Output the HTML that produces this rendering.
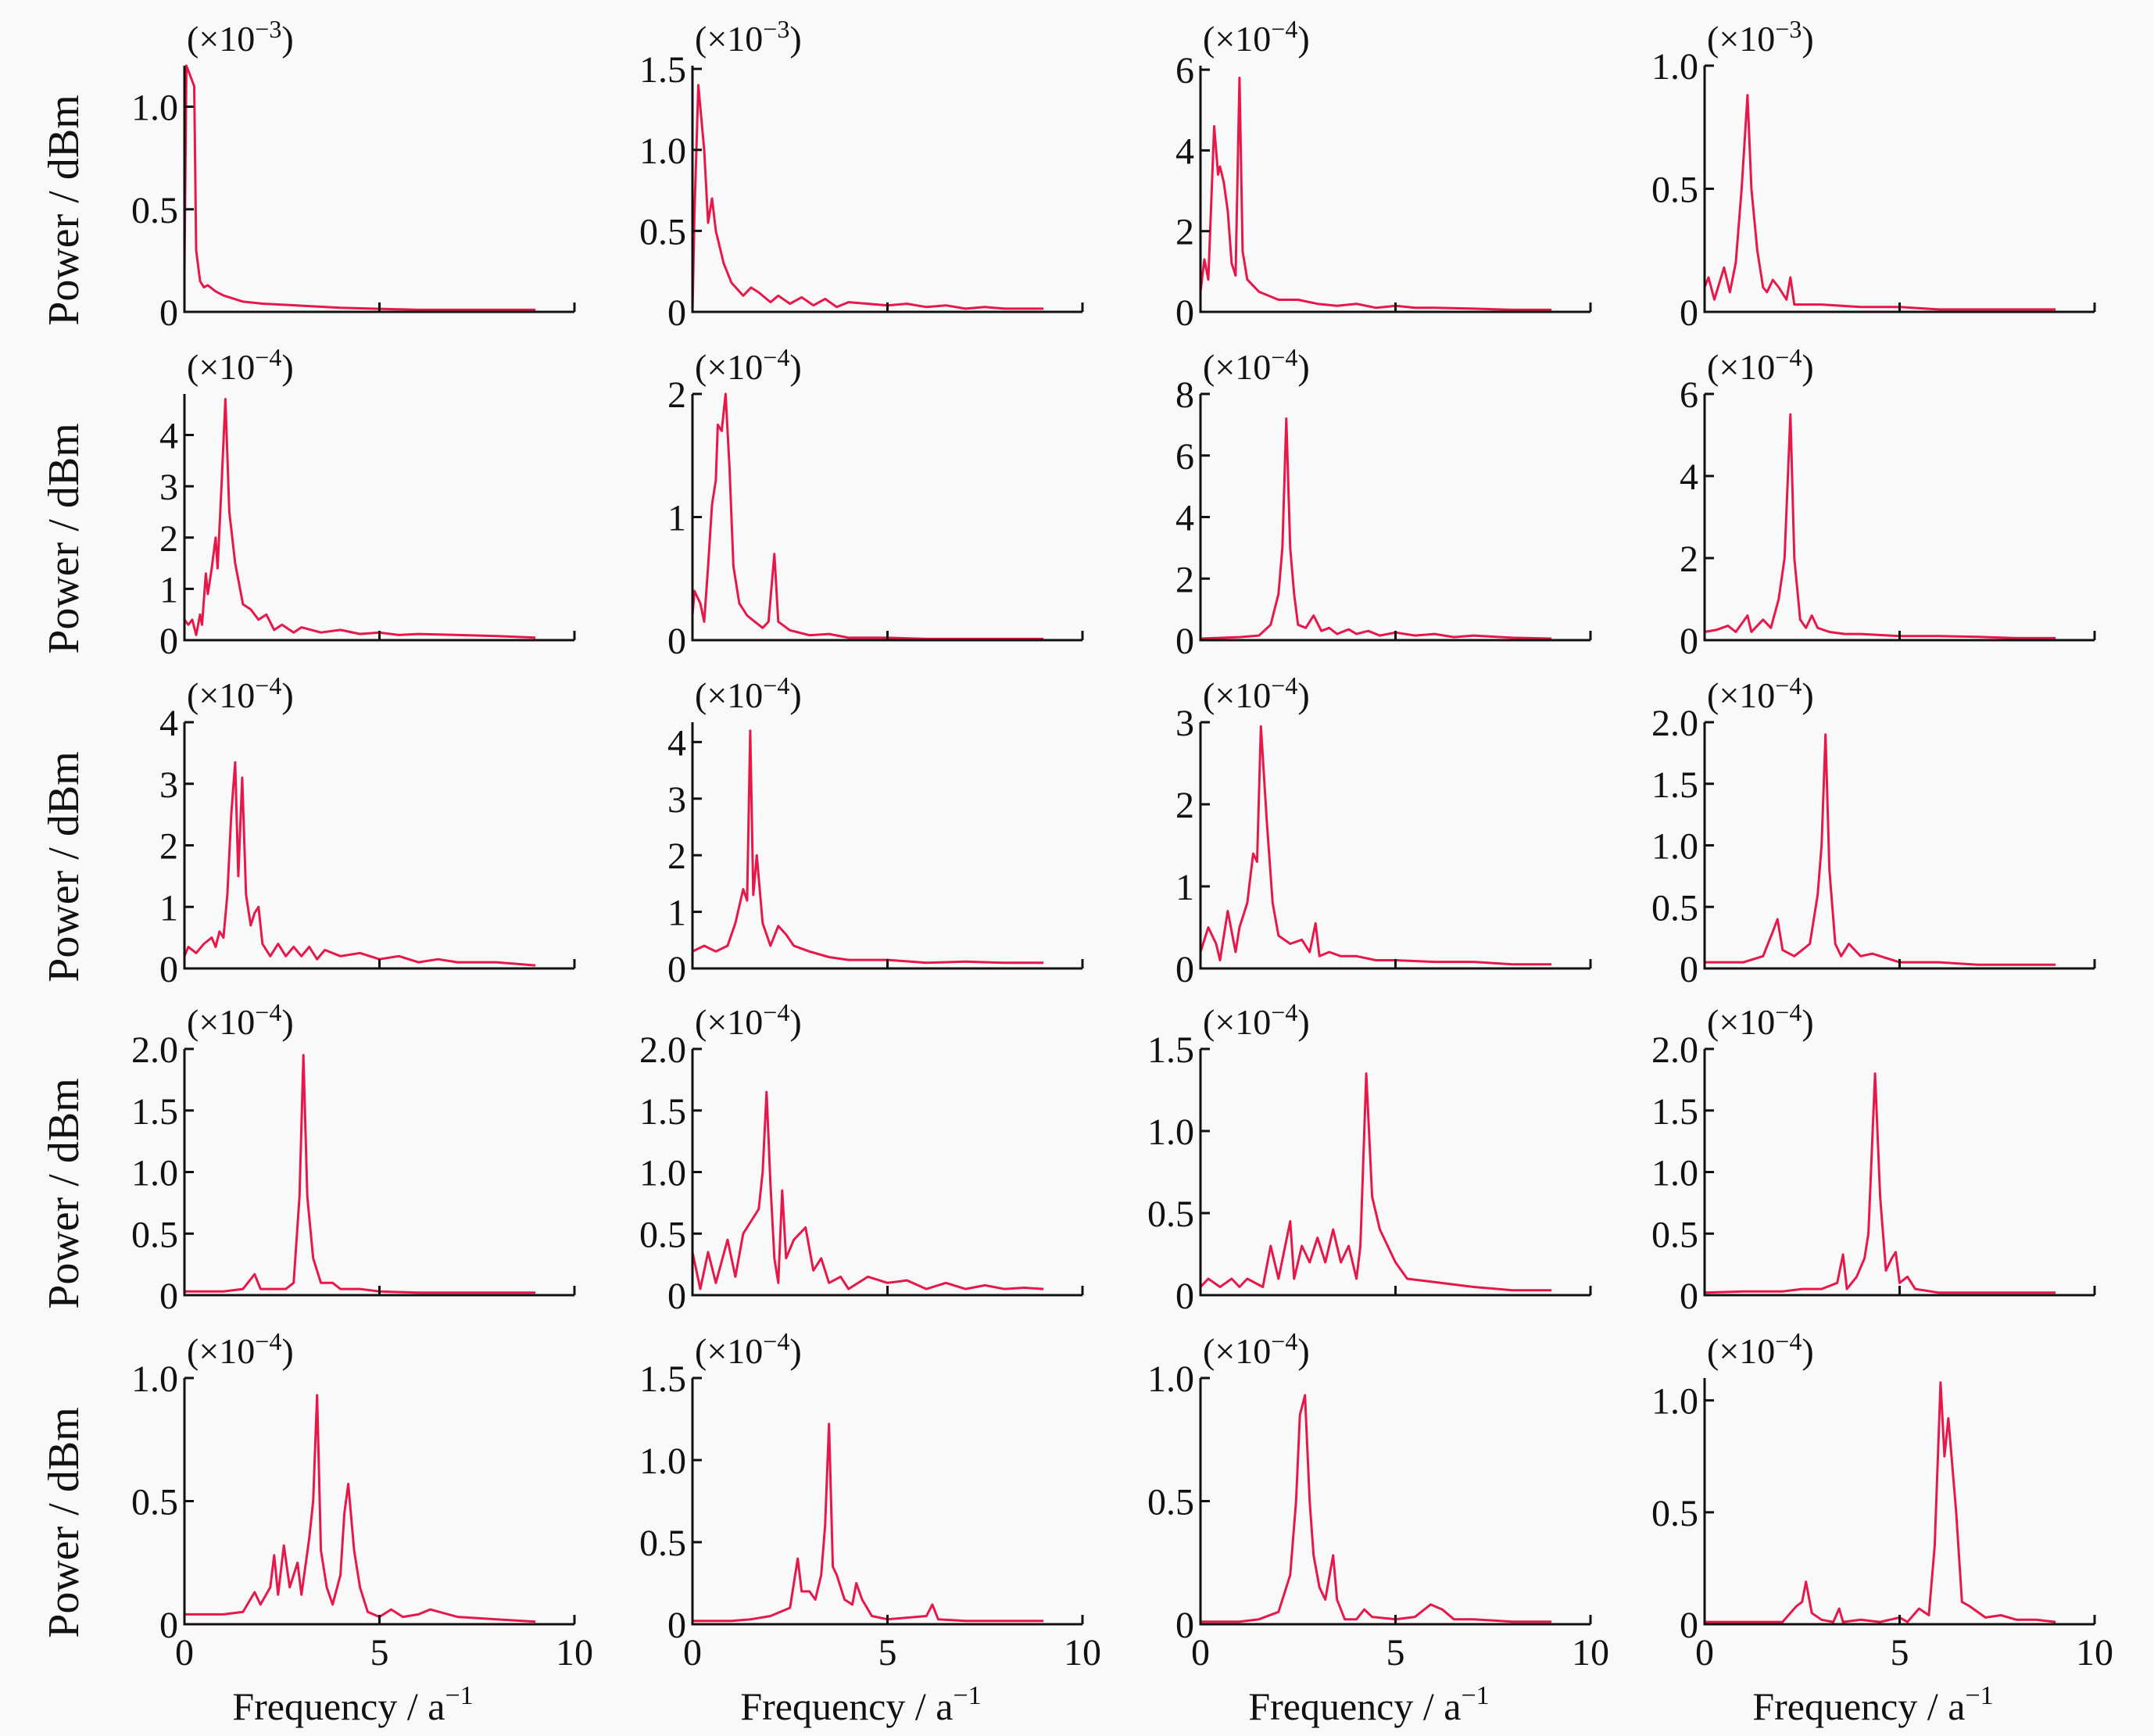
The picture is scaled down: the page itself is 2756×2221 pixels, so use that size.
<!DOCTYPE html>
<html><head><meta charset="utf-8">
<style>
html,body{margin:0;padding:0;background:#f9f9f9;}
svg{display:block;font-family:"Liberation Serif",serif;}
</style></head>
<body>
<svg id="chart" width="2756" height="2221" viewBox="0 0 2756 2221" xmlns="http://www.w3.org/2000/svg">
<rect width="2756" height="2221" fill="#f9f9f9"/>
</svg>
<script>
const freq1=[0,0.05,0.15,0.25,0.3,0.4,0.5,0.6,0.8,1,1.5,2,3,4,5,6,7,8,9];
const power1=[0.2,1.2,1.15,1.1,0.3,0.15,0.12,0.13,0.1,0.08,0.05,0.04,0.03,0.02,0.015,0.01,0.01,0.01,0.01];
const freq2=[0,0.05,0.15,0.3,0.4,0.5,0.6,0.8,1,1.3,1.5,1.7,2,2.2,2.5,2.8,3.1,3.4,3.7,4,4.5,5,5.5,6,6.5,7,7.5,8,8.5,9];
const power2=[0,0.6,1.4,1.0,0.55,0.7,0.5,0.3,0.18,0.1,0.15,0.12,0.06,0.1,0.05,0.09,0.04,0.08,0.03,0.06,0.05,0.04,0.05,0.03,0.04,0.02,0.03,0.02,0.02,0.02];
const freq3=[0,0.1,0.2,0.35,0.45,0.5,0.6,0.7,0.8,0.9,1.0,1.08,1.2,1.5,2,2.5,3,3.5,4,4.5,5,5.5,6,7,8,9];
const power3=[0.5,1.3,0.8,4.6,3.4,3.6,3.2,2.5,1.2,0.9,5.8,1.5,0.8,0.5,0.3,0.3,0.2,0.15,0.2,0.1,0.15,0.1,0.1,0.08,0.05,0.05];
const freq4=[0,0.1,0.25,0.5,0.65,0.8,0.95,1.1,1.2,1.35,1.5,1.6,1.75,1.9,2.1,2.2,2.3,3,4,5,6,7,9];
const power4=[0.1,0.14,0.05,0.18,0.08,0.2,0.5,0.88,0.5,0.25,0.1,0.08,0.13,0.1,0.05,0.14,0.03,0.03,0.02,0.02,0.01,0.01,0.01];
const freq5=[0,0.1,0.2,0.3,0.4,0.45,0.55,0.6,0.7,0.8,0.85,0.95,1.05,1.15,1.3,1.5,1.7,1.9,2.1,2.3,2.5,2.8,3,3.5,4,4.5,5,5.5,6,7,8,9];
const power5=[0.4,0.3,0.4,0.1,0.5,0.3,1.3,0.9,1.4,2.0,1.4,3.0,4.7,2.5,1.5,0.7,0.6,0.4,0.5,0.2,0.3,0.15,0.25,0.15,0.2,0.12,0.15,0.1,0.12,0.1,0.08,0.05];
const freq6=[0,0.05,0.2,0.3,0.4,0.5,0.6,0.65,0.75,0.85,0.95,1.05,1.2,1.4,1.6,1.8,1.95,2.1,2.2,2.5,3,3.5,4,5,6,9];
const power6=[0.2,0.4,0.3,0.15,0.6,1.1,1.3,1.75,1.7,2.0,1.4,0.6,0.3,0.2,0.15,0.1,0.15,0.7,0.15,0.08,0.04,0.05,0.02,0.02,0.01,0.01];
const freq7=[0,1,1.5,1.8,2.0,2.1,2.2,2.3,2.4,2.5,2.7,2.9,3.1,3.3,3.5,3.8,4,4.3,4.6,5,5.5,6,6.5,7,8,9];
const power7=[0.05,0.1,0.15,0.5,1.5,3,7.2,3,1.5,0.5,0.4,0.8,0.3,0.4,0.2,0.35,0.2,0.3,0.15,0.25,0.15,0.2,0.1,0.15,0.08,0.05];
const freq8=[0,0.3,0.6,0.8,1.1,1.2,1.5,1.7,1.9,2.05,2.2,2.3,2.45,2.6,2.75,2.9,3.2,3.6,4,5,6,7,8,9];
const power8=[0.2,0.25,0.35,0.2,0.6,0.2,0.5,0.3,1.0,2.0,5.5,2.0,0.5,0.3,0.6,0.3,0.2,0.15,0.15,0.1,0.1,0.08,0.05,0.05];
const freq9=[0,0.1,0.3,0.5,0.7,0.8,0.9,1.0,1.1,1.2,1.3,1.38,1.48,1.58,1.7,1.8,1.9,2.0,2.2,2.4,2.6,2.8,3.0,3.2,3.4,3.6,4,4.5,5,5.5,6,6.5,7,8,9];
const power9=[0.2,0.35,0.25,0.4,0.5,0.35,0.6,0.5,1.2,2.5,3.35,1.5,3.1,1.2,0.7,0.9,1.0,0.4,0.2,0.4,0.2,0.35,0.2,0.35,0.15,0.3,0.2,0.25,0.15,0.2,0.1,0.15,0.1,0.1,0.05];
const freq10=[0,0.3,0.6,0.9,1.1,1.3,1.4,1.48,1.56,1.65,1.8,2.0,2.2,2.4,2.6,3,3.5,4,5,6,7,8,9];
const power10=[0.3,0.4,0.3,0.4,0.8,1.4,1.2,4.2,1.3,2.0,0.8,0.4,0.75,0.6,0.4,0.3,0.2,0.15,0.15,0.1,0.12,0.1,0.1];
const freq11=[0,0.2,0.4,0.5,0.7,0.9,1.0,1.2,1.35,1.45,1.55,1.7,1.85,2.0,2.3,2.6,2.8,2.95,3.05,3.3,3.6,4,4.5,5,6,7,8,9];
const power11=[0.2,0.5,0.3,0.1,0.7,0.2,0.5,0.8,1.4,1.3,2.95,1.8,0.8,0.4,0.3,0.35,0.2,0.55,0.15,0.2,0.15,0.15,0.1,0.1,0.08,0.08,0.05,0.05];
const freq12=[0,1,1.5,1.75,1.87,2.0,2.3,2.5,2.7,2.9,3.0,3.1,3.2,3.35,3.5,3.7,4.0,4.3,5,6,7,8,9];
const power12=[0.05,0.05,0.1,0.3,0.4,0.15,0.1,0.15,0.2,0.6,1.0,1.9,0.8,0.2,0.1,0.2,0.1,0.12,0.05,0.05,0.03,0.03,0.03];
const freq13=[0,1,1.5,1.8,1.95,2.3,2.6,2.8,2.95,3.05,3.15,3.3,3.5,3.8,4,4.5,5,6,7,8,9];
const power13=[0.03,0.03,0.05,0.17,0.05,0.05,0.05,0.1,0.8,1.95,0.8,0.3,0.1,0.1,0.05,0.05,0.03,0.02,0.02,0.02,0.02];
const freq14=[0,0.2,0.4,0.6,0.9,1.1,1.3,1.5,1.7,1.8,1.9,2.0,2.1,2.2,2.3,2.4,2.6,2.75,2.9,3.1,3.3,3.5,3.8,4,4.5,5,5.5,6,6.5,7,7.5,8,8.5,9];
const power14=[0.35,0.05,0.35,0.1,0.45,0.15,0.5,0.6,0.7,1.0,1.65,0.9,0.3,0.1,0.85,0.3,0.45,0.5,0.55,0.2,0.3,0.1,0.15,0.05,0.15,0.1,0.12,0.05,0.1,0.05,0.08,0.05,0.06,0.05];
const freq15=[0,0.2,0.5,0.8,1.0,1.2,1.6,1.8,2.0,2.3,2.4,2.6,2.8,3.0,3.2,3.4,3.6,3.8,4.0,4.1,4.25,4.4,4.6,4.8,5,5.3,6,7,8,9];
const power15=[0.05,0.1,0.05,0.1,0.05,0.1,0.05,0.3,0.1,0.45,0.1,0.3,0.2,0.35,0.2,0.4,0.2,0.3,0.1,0.3,1.35,0.6,0.4,0.3,0.2,0.1,0.08,0.05,0.03,0.03];
const freq16=[0,1,2,2.5,3,3.4,3.55,3.65,3.9,4.1,4.2,4.37,4.5,4.65,4.8,4.9,5.0,5.2,5.4,6,9];
const power16=[0.02,0.03,0.03,0.05,0.05,0.1,0.33,0.05,0.15,0.3,0.5,1.8,0.8,0.2,0.3,0.35,0.1,0.15,0.05,0.02,0.02];
const freq17=[0,1,1.5,1.8,1.95,2.2,2.3,2.4,2.55,2.7,2.9,3.0,3.2,3.3,3.4,3.5,3.65,3.8,4.0,4.1,4.2,4.35,4.5,4.7,5.0,5.3,5.6,6,6.3,7,8,9];
const power17=[0.04,0.04,0.05,0.13,0.08,0.15,0.28,0.12,0.32,0.15,0.25,0.12,0.35,0.5,0.93,0.3,0.15,0.08,0.2,0.45,0.57,0.3,0.15,0.05,0.03,0.06,0.03,0.04,0.06,0.03,0.02,0.01];
const freq18=[0,1,1.5,2,2.5,2.7,2.8,3.0,3.15,3.3,3.4,3.5,3.6,3.7,3.9,4.1,4.2,4.35,4.6,5,5.5,6.0,6.15,6.3,7,8,9];
const power18=[0.02,0.02,0.03,0.05,0.1,0.4,0.2,0.2,0.15,0.3,0.6,1.22,0.35,0.3,0.15,0.12,0.25,0.15,0.05,0.03,0.04,0.05,0.12,0.03,0.02,0.02,0.02];
const freq19=[0,1,1.5,2,2.3,2.45,2.55,2.68,2.8,2.9,3.05,3.2,3.4,3.5,3.7,4.0,4.2,4.4,5,5.5,5.9,6.2,6.5,7,8,9];
const power19=[0.01,0.01,0.02,0.05,0.2,0.5,0.85,0.93,0.5,0.28,0.15,0.1,0.28,0.1,0.02,0.02,0.06,0.03,0.02,0.03,0.08,0.06,0.02,0.02,0.01,0.01];
const freq20=[0,2,2.35,2.5,2.6,2.75,3.0,3.3,3.45,3.55,4,4.5,5.0,5.2,5.5,5.75,5.9,6.05,6.15,6.25,6.45,6.6,6.8,7.2,7.6,8,8.5,9];
const power20=[0.01,0.01,0.08,0.1,0.19,0.05,0.02,0.01,0.07,0.01,0.02,0.01,0.03,0.01,0.07,0.04,0.35,1.08,0.75,0.92,0.5,0.1,0.08,0.03,0.04,0.02,0.02,0.01];

const yMax=[1.2,1.52,6.1,1.0, 4.8,2.0,8,6, 4,4.35,3,2, 2,2,1.5,2, 1.0,1.5,1.0,1.1];
const yTicks=[[0,0.5,1.0],[0,0.5,1.0,1.5],[0,2,4,6],[0,0.5,1.0],
 [0,1,2,3,4],[0,1,2],[0,2,4,6,8],[0,2,4,6],
 [0,1,2,3,4],[0,1,2,3,4],[0,1,2,3],[0,0.5,1.0,1.5,2.0],
 [0,0.5,1.0,1.5,2.0],[0,0.5,1.0,1.5,2.0],[0,0.5,1.0,1.5],[0,0.5,1.0,1.5,2.0],
 [0,0.5,1.0],[0,0.5,1.0,1.5],[0,0.5,1.0],[0,0.5,1.0]];
const yTickLabels=[["0","0.5","1.0"],["0","0.5","1.0","1.5"],["0","2","4","6"],["0","0.5","1.0"],
 ["0","1","2","3","4"],["0","1","2"],["0","2","4","6","8"],["0","2","4","6"],
 ["0","1","2","3","4"],["0","1","2","3","4"],["0","1","2","3"],["0","0.5","1.0","1.5","2.0"],
 ["0","0.5","1.0","1.5","2.0"],["0","0.5","1.0","1.5","2.0"],["0","0.5","1.0","1.5"],["0","0.5","1.0","1.5","2.0"],
 ["0","0.5","1.0"],["0","0.5","1.0","1.5"],["0","0.5","1.0"],["0","0.5","1.0"]];
const exponents=["−3","−3","−4","−3","−4","−4","−4","−4","−4","−4","−4","−4","−4","−4","−4","−4","−4","−4","−4","−4"];
const xTicks=[0,5,10];
const xTickLabels=["0","5","10"];

const freqs=[freq1,freq2,freq3,freq4,freq5,freq6,freq7,freq8,freq9,freq10,freq11,freq12,freq13,freq14,freq15,freq16,freq17,freq18,freq19,freq20];
const powers=[power1,power2,power3,power4,power5,power6,power7,power8,power9,power10,power11,power12,power13,power14,power15,power16,power17,power18,power19,power20];

const NS="http://www.w3.org/2000/svg";
const svg=document.getElementById('chart');
const colX=[236,886,1536,2181], rowB=[399,819,1239,1657,2078];
const W=499, H=315;
function mk(tag,attrs,parent){const e=document.createElementNS(NS,tag);for(const k in attrs)e.setAttribute(k,attrs[k]);(parent||svg).appendChild(e);return e;}

for(let i=0;i<20;i++){
  const r=Math.floor(i/4), c=i%4;
  const x0=colX[c], y0=rowB[r];
  const xs=v=>x0+v/10*W;
  const ys=v=>y0-v/yMax[i]*H;
  const g=mk('g',{});
  
  
  let d='';
  freqs[i].forEach((f,k)=>{d+=(k?'L':'M')+xs(f).toFixed(1)+' '+ys(powers[i][k]).toFixed(1);});
  const p=mk('path',{d:d,fill:'none',stroke:'#e8174a','stroke-width':3,'stroke-linejoin':'round'},g);
  
  
  const ax=mk('path',{d:`M${x0} ${y0-H}L${x0} ${y0}L${x0+W} ${y0}`,fill:'none',stroke:'#111','stroke-width':3},g);
  
  
  xTicks.forEach((t,k)=>{
    if(t>0) mk('line',{x1:xs(t),x2:xs(t),y1:y0,y2:y0-12,stroke:'#111','stroke-width':3},g);
    if(r===4){
      const tl=mk('text',{x:xs(t),y:2130,'font-size':48,'text-anchor':'middle',fill:'#111'},g);
      tl.textContent=xTickLabels[k];
      
      
    }
  });
  yTicks[i].forEach((t,k)=>{
    if(t>0) mk('line',{x1:x0,x2:x0+12,y1:ys(t),y2:ys(t),stroke:'#111','stroke-width':3},g);
    const tl=mk('text',{x:x0-8,y:ys(t)+17,'font-size':48,'text-anchor':'end',fill:'#111'},g);
    tl.textContent=yTickLabels[i][k];
    
    
  });
  const ex=mk('text',{x:x0+3,y:y0-334,'font-size':46,fill:'#111'},g);
  ex.innerHTML='(×10<tspan dy="-17" font-size="32">'+exponents[i]+'</tspan><tspan dy="17">)</tspan>';
  
  
  if(c===0){
    const cy=y0-130;
    const yt=mk('text',{x:100,y:cy,'font-size':56,'text-anchor':'middle',fill:'#111',transform:`rotate(-90 100 ${cy})`},g);
    yt.textContent='Power / dBm';
    
    
  }
  if(r===4){
    const xt=mk('text',{x:x0+W/2-34,y:2200,'font-size':50,'text-anchor':'middle',fill:'#111'},g);
    xt.innerHTML='Frequency / a<tspan dy="-20" font-size="34">−1</tspan>';
    
    
  }
}
</script>
</body></html>
